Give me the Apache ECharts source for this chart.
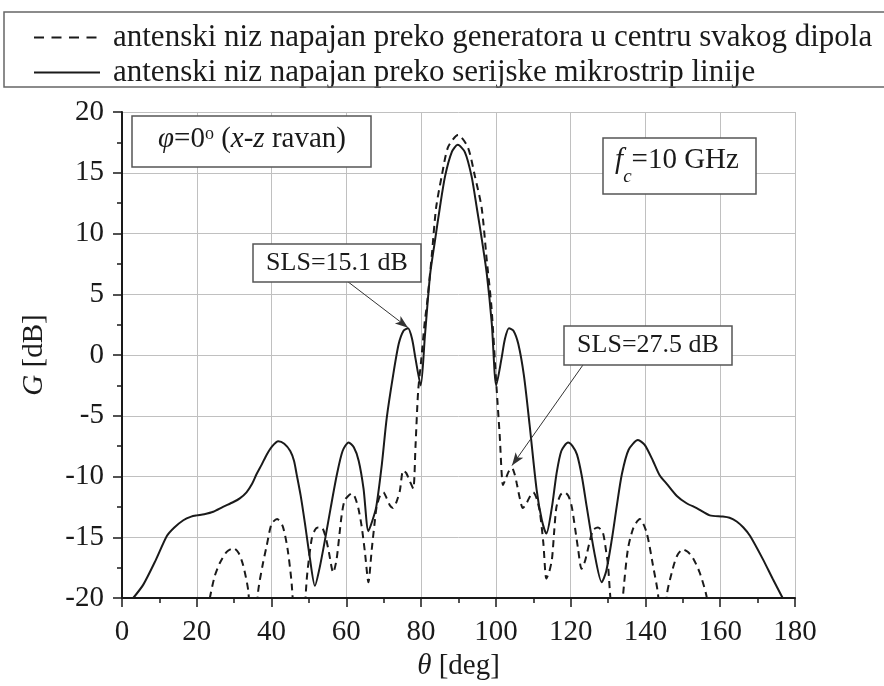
<!DOCTYPE html>
<html>
<head>
<meta charset="utf-8">
<script src="https://cdn.jsdelivr.net/npm/echarts@6/dist/echarts.min.js"></script>
<style>html,body{margin:0;padding:0;background:#fff;}#c{width:884px;height:686px;}</style>
</head>
<body>
<div id="c"></div>
<script>
// ---- data (theta in deg, gain in dB) ----
const thetaSolid = [3,5.7,9,12,14,16.4,18.5,20,22,24.4,27,29.8,31.5,33.3,34.8,36,37.4,38.7,40.2,41.8,43.4,45,46,46.7,47.8,48.9,50.2,51.6,52.8,54.3,55.8,57.5,59,60.6,62,63.3,64.6,65.9,67,68,69.5,70.8,72.5,74,75.3,76.5,77.6,78.5,79.9,81,82.4,83.7,85,86.4,88.2,89.8,91.7,93.5,94.9,96.3,97.6,98.9,100.1,101.5,102.4,103.5,104.7,106,107.5,109,110.9,112.3,113.5,115,116.2,117.5,119.3,120.5,121.7,123,124.3,126.3,128.3,129.5,131,132.3,133.7,135.5,138,139.8,142,143.8,145.7,148.4,151,153.7,157.2,160.7,162.5,164.4,166.2,168,171.4,174,176.7];
const gainSolid  = [-20,-18.9,-16.9,-14.9,-14.2,-13.6,-13.3,-13.2,-13.1,-12.9,-12.5,-12.1,-11.8,-11.3,-10.6,-9.8,-9.0,-8.2,-7.5,-7.1,-7.3,-7.9,-8.7,-9.8,-11.6,-13.8,-16.6,-19.0,-17.6,-15.2,-12.6,-9.8,-7.9,-7.2,-7.6,-8.7,-11,-14.5,-13.6,-12.5,-9,-5.2,-1.7,0.9,2.0,2.2,1.3,-0.3,-2.5,1.5,6.6,9.4,12.1,14.7,16.7,17.3,16.7,14.7,12.1,9.4,6.6,2.6,-2.5,-0.3,1.3,2.2,2.0,0.9,-1.7,-5.7,-11.1,-13.6,-14.7,-12.5,-9.8,-7.9,-7.2,-7.5,-8.2,-10,-12.5,-16.2,-18.7,-17.8,-15.2,-12.5,-9.8,-7.8,-7.0,-7.4,-8.7,-9.9,-10.6,-11.6,-12.2,-12.6,-13.2,-13.3,-13.4,-13.7,-14.2,-14.9,-16.8,-18.4,-20];

const thetaDashed = [22.5,23.5,24.8,26.2,28,29.8,31.2,32.4,33.8,35.1,36.4,37.6,38.7,40,41.5,43,44.3,45.4,47.4,49.4,50.7,51.6,52.4,53.4,54.3,55.2,56.5,57.4,58.7,59.5,60.5,61.5,62.3,63.2,64.1,65,65.9,66.8,67.5,68.1,69,69.9,70.8,71.7,72.5,73.4,74.3,75.2,76,77,77.9,78.5,79.2,80,81,81.5,82.8,84,85.5,87.2,89.9,92.5,94.4,96.2,97.5,98.8,100.2,101,101.9,102.5,103.4,104.3,105,105.6,106.4,107.2,108.2,109,110,111,111.8,112.7,113.5,114.3,115,115.6,116.2,117.3,118.4,119.4,120.3,121.2,122,122.9,123.8,124.6,126,127.3,128.6,129.5,130,130.5,132.3,134,135.3,136.8,138.5,140.3,142,143.4,144.6,145.7,147.3,148.5,150,151.3,152.7,154.5,156.3,157.2];
const gainDashed  = [-22,-20,-18.2,-17.1,-16.2,-15.9,-16.3,-17.3,-19.5,-26,-19.5,-17.3,-15.7,-13.9,-13.5,-14.1,-16,-18.9,-28,-18.5,-15.2,-14.4,-14.2,-14.2,-14.8,-16,-17.9,-16.8,-13.3,-12,-11.6,-11.4,-11.7,-12.6,-14.1,-16.3,-18.7,-16,-14,-12.5,-11.6,-11.3,-11.8,-12.4,-12.6,-12.1,-11.2,-9.5,-9.7,-10.4,-11,-7.5,-3,-0.5,2.8,4.0,8.0,12.1,14.7,17.1,18.1,17.1,14.7,12.1,8.0,4.0,-2.8,-6.5,-10.7,-10.3,-9.6,-9.3,-9.8,-10.6,-11.8,-12.6,-12.2,-11.7,-11.3,-11.9,-13,-15.5,-18.4,-17.8,-16.8,-14.5,-12.5,-11.5,-11.3,-11.6,-12.5,-14.3,-16,-17.6,-17,-16,-14.4,-14.2,-14.6,-16.2,-17.3,-19.5,-26,-19.8,-16,-14.2,-13.5,-14.6,-17.3,-19.8,-26,-19.8,-17.6,-16.5,-16,-16.2,-16.7,-17.9,-19.8,-22];

const xTicks = [0,20,40,60,80,100,120,140,160,180];
const yTicks = [-20,-15,-10,-5,0,5,10,15,20];

const nameDashed = 'antenski niz napajan preko generatora u centru svakog dipola';
const nameSolid  = 'antenski niz napajan preko serijske mikrostrip linije';

// ---- chart ----
const FONT = "'Liberation Serif','Times New Roman',serif";
const INK = '#1a1a1a';
const chart = echarts.init(document.getElementById('c'), null, {renderer:'canvas', width:884, height:686});

const pairs = (xs, ys) => xs.map((x,i)=>[x, ys[i]]);

const axisCommon = {
  axisLine:{show:true, onZero:false, lineStyle:{color:INK, width:2}},
  axisTick:{show:true, inside:false, length:9, lineStyle:{color:INK, width:1.5}},
  minorTick:{show:true, splitNumber:2, length:5, lineStyle:{color:INK, width:1.5}},
  splitLine:{show:true, lineStyle:{color:'#c0c0c0', width:1}},
  axisLabel:{color:INK, fontFamily:FONT, fontSize:29}
};

const legendCommon = {
  orient:'horizontal', left:33, padding:0,
  itemWidth:66, itemHeight:14, itemGap:0,
  itemStyle:{color:'rgba(0,0,0,0)', borderWidth:0, opacity:0},
  textStyle:{fontFamily:FONT, fontSize:31, color:INK, padding:[0,0,0,8]}
};

chart.setOption({
  animation:false,
  backgroundColor:'#fff',
  color:[INK, INK],
  grid:{left:122, right:89, top:112, bottom:80, containLabel:false},
  legend:[
    Object.assign({}, legendCommon, {top:22, lineStyle:{type:[10,7.5], width:2, color:INK}, data:[{name:nameDashed}]}),
    Object.assign({}, legendCommon, {top:57, data:[{name:nameSolid}]})
  ],
  xAxis:Object.assign({}, axisCommon, {
    type:'value', min:0, max:180, interval:20,
    axisLabel:Object.assign({}, axisCommon.axisLabel, {margin:20}),
    name:'{i|θ} [deg]', nameLocation:'middle', nameGap:54,
    nameTextStyle:{fontFamily:FONT, fontSize:29, color:INK,
      rich:{i:{fontFamily:FONT, fontSize:29, fontStyle:'italic', color:INK}}}
  }),
  yAxis:Object.assign({}, axisCommon, {
    type:'value', min:-20, max:20, interval:5,
    axisLabel:Object.assign({}, axisCommon.axisLabel, {margin:18}),
    name:'{i|G} [dB]', nameLocation:'middle', nameGap:73, nameRotate:90,
    nameTextStyle:{fontFamily:FONT, fontSize:29, color:INK,
      rich:{i:{fontFamily:FONT, fontSize:29, fontStyle:'italic', color:INK}}}
  }),
  series:[
    {
      name:nameDashed, type:'line', data:pairs(thetaDashed, gainDashed),
      symbol:'none', showSymbol:false, smooth:0.25, clip:true,
      itemStyle:{color:INK},
      lineStyle:{color:INK, width:2, type:[7,5]},
      markLine:{
        silent:true, symbol:['none','arrow'], symbolSize:[7,13],
        label:{show:false},
        lineStyle:{color:'#333', width:1, type:'solid'},
        data:[[{coord:[123.5,-0.73]},{coord:[104.3,-9.1]}]]
      }
    },
    {
      name:nameSolid, type:'line', data:pairs(thetaSolid, gainSolid),
      symbol:'none', showSymbol:false, smooth:0.25, clip:true,
      itemStyle:{color:INK},
      lineStyle:{color:INK, width:2, type:'solid'},
      markLine:{
        silent:true, symbol:['none','arrow'], symbolSize:[7,13],
        label:{show:false},
        lineStyle:{color:'#333', width:1, type:'solid'},
        data:[[{coord:[59.9,6.15]},{coord:[76.5,2.25]}]]
      }
    }
  ],
  graphic:[
    {type:'rect', z:90, shape:{x:4, y:12, width:900, height:75}, style:{fill:'none', stroke:'#666', lineWidth:1.5}},
    // phi box
    {type:'rect', z:100, shape:{x:132, y:116, width:239, height:51}, style:{fill:'#fff', stroke:'#555', lineWidth:1.5}},
    {type:'text', z:101, x:252, y:125, style:{
      text:'{i|φ}{n|=0}{sup|o}{n| (}{i|x}{n|-}{i|z}{n| ravan)}',
      align:'center', verticalAlign:'top', fill:INK,
      rich:{
        n:{fontFamily:FONT, fontSize:29, verticalAlign:'top', lineHeight:29, fill:INK},
        i:{fontFamily:FONT, fontSize:29, fontStyle:'italic', verticalAlign:'top', lineHeight:29, fill:INK},
        sup:{fontFamily:FONT, fontSize:18, verticalAlign:'top', lineHeight:18, fill:INK}
      }}},
    // fc box
    {type:'rect', z:100, shape:{x:603, y:138, width:153, height:56}, style:{fill:'#fff', stroke:'#555', lineWidth:1.5}},
    {type:'text', z:101, x:677, y:146, style:{
      text:'{i|f}{sub|c}{n|=10 GHz}',
      align:'center', verticalAlign:'top', fill:INK,
      rich:{
        n:{fontFamily:FONT, fontSize:29, verticalAlign:'top', lineHeight:29, fill:INK},
        i:{fontFamily:FONT, fontSize:29, fontStyle:'italic', verticalAlign:'top', lineHeight:29, fill:INK},
        sub:{fontFamily:FONT, fontSize:19, fontStyle:'italic', verticalAlign:'top', lineHeight:19, padding:[21,0,0,0], fill:INK}
      }}},
    // SLS boxes
    {type:'rect', z:100, shape:{x:253, y:244, width:168, height:38}, style:{fill:'#fff', stroke:'#555', lineWidth:1.5}},
    {type:'text', z:101, x:337, y:263, style:{text:'SLS=15.1 dB', font:"26px 'Liberation Serif','Times New Roman',serif", align:'center', verticalAlign:'middle', fill:INK}},
    {type:'rect', z:100, shape:{x:564, y:326, width:168, height:39}, style:{fill:'#fff', stroke:'#555', lineWidth:1.5}},
    {type:'text', z:101, x:648, y:345, style:{text:'SLS=27.5 dB', font:"26px 'Liberation Serif','Times New Roman',serif", align:'center', verticalAlign:'middle', fill:INK}}
  ]
});
</script>
</body>
</html>
